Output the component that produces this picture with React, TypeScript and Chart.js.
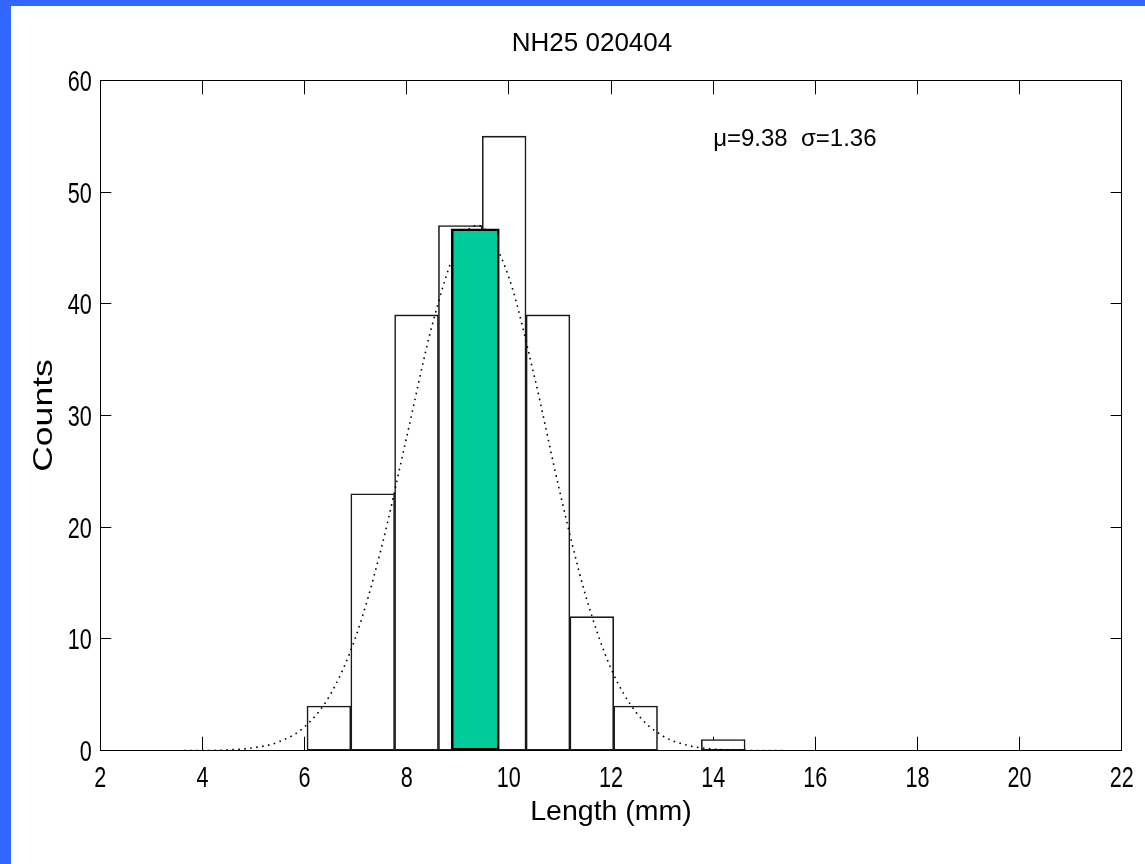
import React, { useEffect, useRef } from "react";
import { Chart, registerables } from "chart.js";

Chart.register(...registerables);

// ---- text ----
const chartTitle = "NH25 020404";
const xAxisLabel = "Length (mm)";
const yAxisLabel = "Counts";
const statsLabel = "\u03bc=9.38  \u03c3=1.36";
const statsAnchor = [14, 54.7]; // data coords (x, y) of the annotation

// ---- axes ----
const xRange = [2, 22];
const xStep = 2;
const yRange = [0, 60];
const yStep = 10;

// ---- histogram ----
const binEdges = [6.047, 6.905, 7.763, 8.621, 9.479, 10.337, 11.195, 12.053, 12.911, 13.769, 14.627];
const binCounts = [4, 23, 39, 47, 55, 39, 12, 4, 0, 1];

// ---- highlighted bin ----
const highlightEdges = [8.873, 9.813];
const highlightCount = [46.7];

// ---- fitted normal curve ----
const curveX = [2, 3, 4, 4.5, 5, 5.5, 6, 6.5, 7, 7.5, 8, 8.5, 9, 9.38, 9.5, 10, 10.5, 11, 11.5, 12, 12.5, 13, 13.5, 14, 14.5, 15, 16, 22];
const curveY = [0, 0, 0.01, 0.07, 0.26, 0.8, 2.14, 4.99, 10.17, 18.08, 28.09, 38.12, 45.2, 47.0, 46.82, 42.36, 33.48, 23.12, 13.94, 7.35, 3.38, 1.36, 0.48, 0.15, 0.04, 0.01, 0, 0];

const SANS = "'Liberation Sans', Arial, sans-serif";

export default function App() {
  const ref = useRef<HTMLCanvasElement | null>(null);

  useEffect(() => {
    if (!ref.current) return;

    const centers = binCounts.map((_, i) => (binEdges[i] + binEdges[i + 1]) / 2);
    const histData = centers.map((c, i) => ({ x: c, y: binCounts[i] }));

    const hlWidth = highlightEdges[1] - highlightEdges[0];
    const hlCenter = (highlightEdges[0] + highlightEdges[1]) / 2;
    const hlData = [
      { x: hlCenter, y: highlightCount[0] },
      { x: hlCenter + hlWidth, y: null }, // spacing helper: sets the bar width
    ];

    const curveData = curveX.map((x, i) => ({ x, y: curveY[i] }));

    // tick labels and y title drawn in the narrow/tall look of the original
    const textPlugin = {
      id: "texts",
      afterDraw(chart: any) {
        const { ctx, scales, chartArea } = chart;
        const tickSize = 21.6;
        const tickStretch = 1.36;
        const cap = 0.716 * tickSize;
        ctx.save();
        ctx.fillStyle = "#000";
        ctx.font = `${tickSize}px ${SANS}`;
        ctx.textBaseline = "alphabetic";

        // x tick labels
        ctx.textAlign = "center";
        const xs = scales.x;
        const xCapCenter = chartArea.bottom + 25.8;
        xs.ticks.forEach((t: any) => {
          const px = xs.getPixelForValue(t.value);
          ctx.save();
          ctx.translate(px, xCapCenter);
          ctx.scale(1, tickStretch);
          ctx.fillText(String(t.label), 0, cap / 2);
          ctx.restore();
        });

        // y tick labels
        ctx.textAlign = "right";
        const ys = scales.y;
        const yRight = chartArea.left - 8.6;
        ys.ticks.forEach((t: any) => {
          const py = ys.getPixelForValue(t.value);
          ctx.save();
          ctx.translate(yRight, py);
          ctx.scale(1, tickStretch);
          ctx.fillText(String(t.label), 0, cap / 2);
          ctx.restore();
        });

        // y axis title
        const titleSize = 28;
        const titleCap = 0.716 * titleSize;
        ctx.font = `${titleSize}px ${SANS}`;
        ctx.textAlign = "center";
        ctx.save();
        ctx.translate(42, (chartArea.top + chartArea.bottom) / 2);
        ctx.rotate(-Math.PI / 2);
        ctx.scale(1.27, 1);
        ctx.fillText(yAxisLabel, 0, titleCap / 2);
        ctx.restore();

        // stats annotation
        ctx.font = `24px ${SANS}`;
        ctx.textAlign = "left";
        ctx.textBaseline = "middle";
        ctx.fillText(statsLabel, xs.getPixelForValue(statsAnchor[0]), ys.getPixelForValue(statsAnchor[1]));
        ctx.restore();
      },
    };

    const baseGrid = (len: number) => ({
      drawOnChartArea: false,
      drawTicks: true,
      tickLength: len,
      color: "#000",
      lineWidth: 1,
      offset: false,
    });
    const border = { display: true, color: "#000", width: 1 };

    const chart = new Chart(ref.current, {
      type: "line",
      data: {
        datasets: [
          {
            type: "bar",
            data: histData as any,
            xAxisID: "x",
            yAxisID: "y",
            backgroundColor: "#ffffff",
            borderColor: "#1a1a1a",
            borderWidth: 1.6,
            borderSkipped: false,
            barPercentage: 1,
            categoryPercentage: 1,
            grouped: false,
            order: 3,
          } as any,
          {
            type: "line",
            data: curveData as any,
            xAxisID: "x",
            yAxisID: "y",
            borderColor: "#000",
            borderWidth: 1.6,
            borderDash: [1.6, 4.4],
            pointRadius: 0,
            fill: false,
            cubicInterpolationMode: "monotone",
            order: 2,
          } as any,
          {
            type: "bar",
            data: hlData as any,
            xAxisID: "x2",
            yAxisID: "y",
            backgroundColor: "#00CC99",
            borderColor: "#000",
            borderWidth: 2.5,
            borderSkipped: false,
            barPercentage: 1,
            categoryPercentage: 1,
            grouped: false,
            order: 1,
          } as any,
        ],
      },
      options: {
        responsive: false,
        animation: false,
        events: [],
        layout: { padding: { left: 62.3, right: 23.3, top: 0, bottom: 0 } },
        plugins: {
          legend: { display: false },
          tooltip: { enabled: false },
          title: {
            display: true,
            text: chartTitle,
            color: "#000",
            font: { family: SANS, size: 26, weight: "normal", lineHeight: 1.2 },
            padding: { top: 27.9, bottom: 21.2 },
          },
        },
        scales: {
          x: {
            type: "linear",
            position: "bottom",
            min: xRange[0],
            max: xRange[1],
            offset: false,
            grid: baseGrid(-14),
            border,
            ticks: { stepSize: xStep, display: false, autoSkip: false, maxRotation: 0 },
            title: {
              display: true,
              text: xAxisLabel,
              color: "#000",
              font: { family: SANS, size: 28.5, lineHeight: 1.2 },
              padding: { top: 0, bottom: 34.4 },
            },
            afterFit: (s: any) => {
              s.height = 113.3;
              s.paddingLeft = 0;
              s.paddingRight = 0;
            },
          },
          x2: {
            type: "linear",
            position: "top",
            min: xRange[0],
            max: xRange[1],
            offset: false,
            grid: baseGrid(-14),
            border,
            ticks: { stepSize: xStep, display: false },
            afterFit: (s: any) => {
              s.height = 0;
              s.paddingLeft = 0;
              s.paddingRight = 0;
            },
          },
          y: {
            type: "linear",
            position: "left",
            min: yRange[0],
            max: yRange[1],
            grid: baseGrid(-11),
            border,
            ticks: { stepSize: yStep, display: false },
            afterFit: (s: any) => {
              s.width = 38;
              s.paddingTop = 0;
              s.paddingBottom = 0;
            },
          },
          y2: {
            type: "linear",
            position: "right",
            min: yRange[0],
            max: yRange[1],
            grid: baseGrid(-11),
            border,
            ticks: { stepSize: yStep, display: false },
            afterFit: (s: any) => {
              s.width = 0;
              s.paddingTop = 0;
              s.paddingBottom = 0;
            },
          },
        },
      } as any,
      plugins: [textPlugin],
    });

    return () => chart.destroy();
  }, []);

  return (
    <div style={{ position: "fixed", left: 0, top: 0, width: 1145, height: 864, background: "#3366FF", overflow: "hidden" }}>
      <div style={{ position: "absolute", left: 11, top: 6, right: 0, bottom: 0, background: "#ffffff" }} />
      <canvas ref={ref} width={1145} height={864} style={{ position: "absolute", left: 0, top: 0, width: 1145, height: 864 }} />
    </div>
  );
}
